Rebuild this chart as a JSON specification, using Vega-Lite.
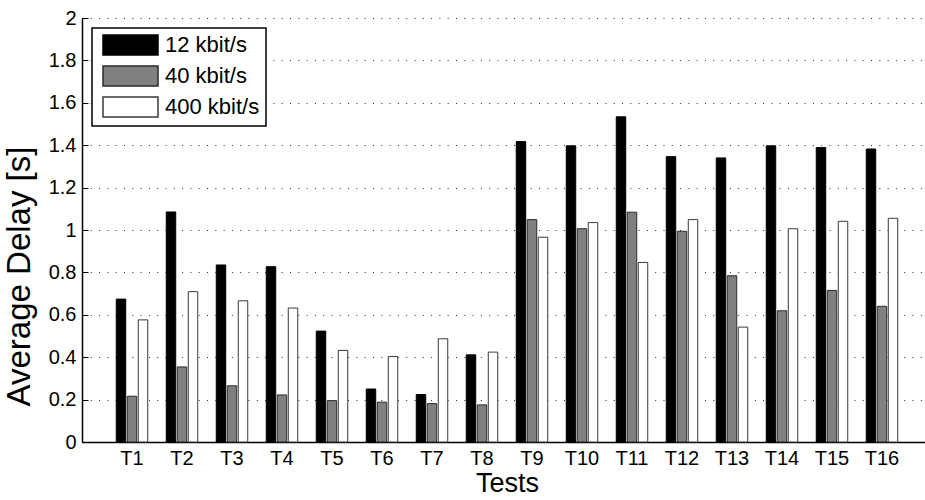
{
  "$schema": "https://vega.github.io/schema/vega-lite/v6.json",
  "autosize": {"type": "none"},
  "padding": {"left": 82, "top": 18, "right": 1, "bottom": 58},
  "width": 842,
  "height": 424,
  "config": {
    "font": "Liberation Sans",
    "view": {"stroke": null},
    "axis": {"labelColor": "#000", "titleColor": "#000", "titleFontWeight": "normal", "domainColor": "#000", "domainWidth": 1.5, "tickColor": "#000"},
    "legend": {"strokeWidth": 1.5}
  },
  "data": {
    "values": [
      {"test": "T1", "series": "12 kbit/s", "delay": 0.674},
      {"test": "T1", "series": "40 kbit/s", "delay": 0.216},
      {"test": "T1", "series": "400 kbit/s", "delay": 0.576},
      {"test": "T2", "series": "12 kbit/s", "delay": 1.085},
      {"test": "T2", "series": "40 kbit/s", "delay": 0.354},
      {"test": "T2", "series": "400 kbit/s", "delay": 0.709},
      {"test": "T3", "series": "12 kbit/s", "delay": 0.835},
      {"test": "T3", "series": "40 kbit/s", "delay": 0.265},
      {"test": "T3", "series": "400 kbit/s", "delay": 0.666},
      {"test": "T4", "series": "12 kbit/s", "delay": 0.827},
      {"test": "T4", "series": "40 kbit/s", "delay": 0.222},
      {"test": "T4", "series": "400 kbit/s", "delay": 0.632},
      {"test": "T5", "series": "12 kbit/s", "delay": 0.523},
      {"test": "T5", "series": "40 kbit/s", "delay": 0.195},
      {"test": "T5", "series": "400 kbit/s", "delay": 0.432},
      {"test": "T6", "series": "12 kbit/s", "delay": 0.250},
      {"test": "T6", "series": "40 kbit/s", "delay": 0.188},
      {"test": "T6", "series": "400 kbit/s", "delay": 0.403},
      {"test": "T7", "series": "12 kbit/s", "delay": 0.224},
      {"test": "T7", "series": "40 kbit/s", "delay": 0.181},
      {"test": "T7", "series": "400 kbit/s", "delay": 0.487},
      {"test": "T8", "series": "12 kbit/s", "delay": 0.411},
      {"test": "T8", "series": "40 kbit/s", "delay": 0.175},
      {"test": "T8", "series": "400 kbit/s", "delay": 0.424},
      {"test": "T9", "series": "12 kbit/s", "delay": 1.417},
      {"test": "T9", "series": "40 kbit/s", "delay": 1.049},
      {"test": "T9", "series": "400 kbit/s", "delay": 0.966},
      {"test": "T10", "series": "12 kbit/s", "delay": 1.397},
      {"test": "T10", "series": "40 kbit/s", "delay": 1.006},
      {"test": "T10", "series": "400 kbit/s", "delay": 1.035},
      {"test": "T11", "series": "12 kbit/s", "delay": 1.534},
      {"test": "T11", "series": "40 kbit/s", "delay": 1.084},
      {"test": "T11", "series": "400 kbit/s", "delay": 0.847},
      {"test": "T12", "series": "12 kbit/s", "delay": 1.346},
      {"test": "T12", "series": "40 kbit/s", "delay": 0.994},
      {"test": "T12", "series": "400 kbit/s", "delay": 1.049},
      {"test": "T13", "series": "12 kbit/s", "delay": 1.340},
      {"test": "T13", "series": "40 kbit/s", "delay": 0.784},
      {"test": "T13", "series": "400 kbit/s", "delay": 0.542},
      {"test": "T14", "series": "12 kbit/s", "delay": 1.397},
      {"test": "T14", "series": "40 kbit/s", "delay": 0.619},
      {"test": "T14", "series": "400 kbit/s", "delay": 1.006},
      {"test": "T15", "series": "12 kbit/s", "delay": 1.389},
      {"test": "T15", "series": "40 kbit/s", "delay": 0.715},
      {"test": "T15", "series": "400 kbit/s", "delay": 1.041},
      {"test": "T16", "series": "12 kbit/s", "delay": 1.382},
      {"test": "T16", "series": "40 kbit/s", "delay": 0.640},
      {"test": "T16", "series": "400 kbit/s", "delay": 1.055}
    ]
  },
  "mark": {"type": "bar", "strokeWidth": 1},
  "encoding": {
    "x": {
      "field": "test",
      "type": "nominal",
      "sort": ["T1","T2","T3","T4","T5","T6","T7","T8","T9","T10","T11","T12","T13","T14","T15","T16"],
      "scale": {"range": [0, 850], "paddingInner": 0, "paddingOuter": 0.5},
      "axis": {"title": "Tests", "titleFontSize": 27, "titlePadding": 2, "labelAngle": 0, "labelFontSize": 20, "labelPadding": 6, "ticks": false, "grid": false}
    },
    "xOffset": {
      "field": "series",
      "type": "nominal",
      "sort": ["12 kbit/s", "40 kbit/s", "400 kbit/s"],
      "scale": {"paddingInner": 0.14, "paddingOuter": 0.84}
    },
    "y": {
      "field": "delay",
      "type": "quantitative",
      "scale": {"domain": [0, 2], "nice": false},
      "axis": {
        "title": "Average Delay [s]",
        "titleFontSize": 33,
        "titleX": -46,
        "titleY": 258,
        "titleBaseline": "bottom",
        "titleAngle": 270,
        "values": [0, 0.2, 0.4, 0.6, 0.8, 1, 1.2, 1.4, 1.6, 1.8, 2],
        "format": "~g",
        "labelFontSize": 20,
        "labelPadding": 12,
        "tickSize": -6,
        "tickWidth": 1,
        "grid": true,
        "gridColor": "#000",
        "gridDash": [1, 7.3],
        "gridWidth": 1,
        "gridOpacity": 0.85
      }
    },
    "fill": {
      "field": "series",
      "type": "nominal",
      "sort": ["12 kbit/s", "40 kbit/s", "400 kbit/s"],
      "scale": {"domain": ["12 kbit/s", "40 kbit/s", "400 kbit/s"], "range": ["#000000", "#808080", "#ffffff"]},
      "legend": {
        "title": null,
        "orient": "none",
        "legendX": 10,
        "legendY": 10,
        "symbolType": "M-0.6,-1H4.9V1H-0.6Z",
        "symbolSize": 400,
        "symbolStrokeWidth": 1.5,
        "labelFontSize": 22,
        "labelColor": "#000",
        "labelOffset": 45,
        "rowPadding": 5,
        "padding": 6,
        "strokeColor": "#000",
        "fillColor": "#fff"
      }
    },
    "stroke": {
      "field": "series",
      "type": "nominal",
      "sort": ["12 kbit/s", "40 kbit/s", "400 kbit/s"],
      "scale": {"domain": ["12 kbit/s", "40 kbit/s", "400 kbit/s"], "range": ["#000000", "#2a2a2a", "#3a3a3a"]},
      "legend": null
    }
  }
}
